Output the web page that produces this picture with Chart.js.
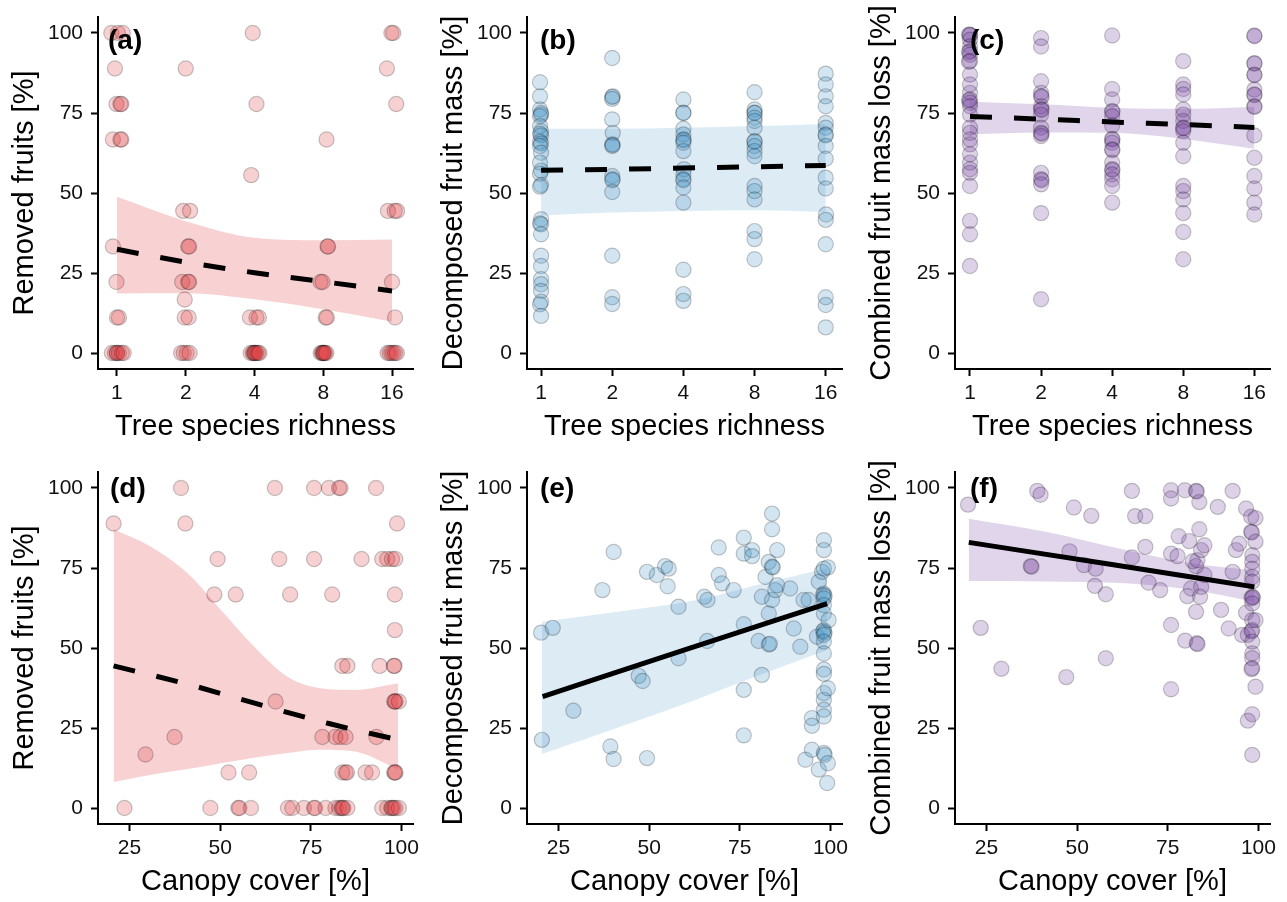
<!DOCTYPE html>
<html>
<head>
<meta charset="utf-8">
<script src="https://cdn.jsdelivr.net/npm/chart.js@4.4.1/dist/chart.umd.min.js"></script>
<style>
    html, body { margin: 0; padding: 0; background: #fff; }
    #figure { position: relative; width: 1287px; height: 902px; }
    #figure canvas { position: absolute; }
</style>
</head>
<body>
<div id="figure"></div>
<script>
// tick values
const richnessTicks = [1, 2, 4, 8, 16];
const canopyTicks = [25, 50, 75, 100];
const percentTicks = [0, 25, 50, 75, 100];

// (a) removed fruits vs tree species richness  [richness (jittered), %]
const removedRichness = [
    [0.945, 100], [1.01, 100], [1.06, 100], [0.98, 88.9],
    [0.995, 77.8], [1.035, 77.8], [1.045, 77.8],
    [0.96, 66.7], [1.035, 66.7], [1.045, 66.7],
    [0.96, 33.3], [0.995, 22.2], [1.0, 11.1], [1.02, 11.1],
    [0.95, 0], [0.98, 0], [1.0, 0], [1.0, 0], [1.02, 0], [1.05, 0], [1.07, 0],
    [2.0, 88.9], [1.95, 44.4], [2.09, 44.4], [2.05, 33.3], [2.07, 33.3],
    [1.93, 22.2], [2.05, 22.2], [2.07, 22.2], [1.98, 16.7], [1.98, 11.1], [2.06, 11.1],
    [1.91, 0], [1.96, 0], [2.02, 0], [2.08, 0],
    [3.93, 100], [4.08, 77.8], [3.87, 55.6], [3.82, 11.1], [4.08, 11.1], [4.18, 11.1],
    [3.85, 0], [3.93, 0], [3.98, 0], [4.0, 0], [4.03, 0], [4.08, 0], [4.15, 0], [4.2, 0],
    [8.27, 66.7], [8.35, 33.3], [8.4, 33.3], [7.79, 22.2], [7.95, 22.2], [8.2, 11.1], [8.3, 11.1],
    [7.8, 0], [7.9, 0], [8.0, 0], [8.0, 0], [8.05, 0], [8.15, 0], [8.25, 0],
    [15.9, 100], [16.2, 100], [15.2, 88.9], [16.7, 77.8], [15.36, 44.4], [16.43, 44.4], [16.83, 44.4],
    [16.0, 22.2], [16.5, 11.1],
    [15.3, 0], [15.6, 0], [15.9, 0], [16.2, 0], [16.5, 0], [16.8, 0]
];
const removedRichnessFitX = [1, 2, 4, 8, 16];
const removedRichnessFit = [32.4, 28.4, 25.1, 22.3, 19.4];
const removedRichnessUpper = [48.8, 41.2, 36.0, 35.2, 35.5];
const removedRichnessLower = [18.6, 18.7, 16.8, 13.7, 9.8];

// (b) decomposed fruit mass vs richness
const decompRichness = [
    [0.99, 84.6], [0.99, 80.2], [0.99, 76.1], [1.0, 75], [1.0, 74.5], [0.99, 74], [0.99, 70.9],
    [1.0, 69.3], [0.99, 68.5], [1.0, 68], [0.99, 66], [1.0, 65.5], [0.99, 64.7], [1.0, 62.6],
    [0.99, 59.5], [1.0, 57], [0.99, 56], [1.0, 52.5], [0.99, 52], [1.0, 41.8], [0.99, 40.5],
    [1.0, 40.2], [1.0, 37.1], [1.0, 30.4], [1.0, 27.2], [1.0, 23.1], [1.0, 21.5], [1.0, 19.4],
    [1.0, 16], [0.99, 15.2], [1.0, 11.6],
    [2.0, 92.2], [2.01, 80.2], [2.0, 80], [2.0, 79.4], [2.0, 73], [2.01, 68.8], [2.0, 65.2],
    [2.01, 65], [2.0, 64.7], [2.0, 55.3], [2.01, 54.3], [2.0, 54], [2.0, 50.3], [2.0, 30.4],
    [2.0, 17.4], [2.0, 15.3],
    [4.0, 79.2], [4.0, 75.1], [4.0, 75], [4.0, 70.1], [4.0, 68.3], [4.01, 66.7], [4.0, 66.5],
    [4.0, 65.7], [4.0, 63.1], [4.02, 57.4], [4.0, 55.8], [4.0, 54.3], [4.0, 54], [4.0, 51.7],
    [4.0, 47], [4.0, 26], [4.0, 18.4], [4.0, 16.3],
    [8.0, 81.5], [8.0, 76.1], [8.0, 75.1], [8.0, 75], [8.0, 73.5], [8.0, 72.5], [8.0, 70.4],
    [8.0, 66.2], [8.0, 66], [8.0, 64.7], [8.0, 63.1], [8.0, 61.5], [8.0, 52.2], [8.0, 50.6],
    [8.0, 48], [8.0, 38.1], [8.0, 35.6], [8.0, 29.3],
    [16, 87.3], [16, 83.9], [16, 80.2], [16, 77.1], [16, 71.9], [16, 70.4], [16, 68.3],
    [16, 68], [16, 64.7], [16, 60.7], [16, 54.8], [16, 51.4], [16.05, 43.3], [16, 41.6],
    [16, 34.0], [16, 17.4], [16, 15.0], [16, 8.0]
];
const decompRichnessFitX = [1, 2, 4, 8, 16];
const decompRichnessFit = [57.1, 57.4, 57.8, 58.2, 58.6];
const decompRichnessUpper = [70.1, 70.1, 70.4, 70.9, 71.6];
const decompRichnessLower = [43.0, 43.9, 44.4, 44.6, 44.1];

// (c) combined fruit mass loss vs richness
const combinedRichness = [
    [1.0, 99.5], [0.99, 99.5], [1.0, 99.3], [1.0, 97.9], [1.0, 95.8], [1.0, 94.3], [0.99, 94],
    [1.0, 93.2], [1.0, 91.2], [0.99, 91], [1.0, 87], [1.0, 83.9], [1.0, 81.3], [1.0, 79.2],
    [0.99, 79], [1.0, 78.2], [1.0, 77.1], [1.0, 74.5], [1.0, 70.4], [1.0, 68.8], [1.0, 66.7],
    [1.0, 65.2], [1.0, 62.1], [1.0, 59.5], [1.0, 57.4], [1.0, 56.3], [1.0, 52.2], [1.0, 41.3],
    [1.0, 37.1], [1.0, 27.2],
    [2.0, 98.4], [2.0, 95.8], [2.0, 84.9], [2.0, 81.3], [2.0, 80.2], [2.01, 80], [2.0, 77.1],
    [2.0, 76.1], [2.01, 76], [2.0, 74.5], [2.0, 70.4], [2.0, 68.8], [2.01, 68.5], [2.0, 67.8],
    [2.0, 56.3], [2.0, 54.3], [2.01, 54], [2.0, 52.7], [2.0, 43.7], [2.0, 16.8],
    [4.0, 99.2], [4.0, 82.5], [4.0, 79.2], [4.0, 75.6], [4.01, 75.4], [4.0, 74], [4.0, 71.1],
    [4.0, 66.9], [4.01, 66.7], [4.0, 65.7], [4.0, 63.6], [4.01, 63.4], [4.0, 59.5], [4.0, 57.4],
    [4.01, 57.2], [4.0, 55.8], [4.0, 54.3], [4.0, 52.2], [4.0, 47],
    [8.0, 91.2], [8.0, 83.9], [8.0, 82.5], [8.0, 80.8], [8.0, 76.1], [8.0, 74.5], [8.0, 72.5],
    [8.0, 70.4], [8.01, 70.2], [8.0, 69.3], [8.0, 65.7], [8.0, 61.5], [8.0, 52.2], [8.0, 50.6],
    [8.0, 48], [8.0, 43.7], [8.0, 37.8], [8.0, 29.3],
    [16, 99.2], [16.02, 99.0], [16, 90.6], [16.02, 90.4], [16, 87], [16.02, 86.8], [16, 82.3],
    [16, 80.8], [16.02, 80.6], [16, 77.1], [16.02, 76.9], [16, 68], [16, 61], [16, 55.3],
    [16, 51.4], [16, 47], [16, 43.3]
];
const combinedRichnessFitX = [1, 2, 4, 8, 16];
const combinedRichnessFit = [73.9, 73.1, 72.2, 71.4, 70.5];
const combinedRichnessUpper = [78.5, 77.7, 76.6, 76.3, 76.9];
const combinedRichnessLower = [68.3, 68.9, 68.8, 66.9, 63.8];

// (d) removed fruits vs canopy cover  [canopy %, %]
const removedCanopy = [
    [39.2, 100], [65.1, 100], [75.9, 100], [80.0, 100], [82.8, 100], [83.2, 100], [93.0, 100],
    [20.6, 88.9], [40.4, 88.9], [98.8, 88.9],
    [49.3, 77.8], [66.3, 77.8], [75.9, 77.8], [89.0, 77.8], [94.7, 77.8], [96.1, 77.8], [97.4, 77.8], [98.3, 77.8],
    [48.4, 66.7], [54.3, 66.7], [69.3, 66.7], [80.9, 66.7], [98.2, 66.7],
    [98.2, 55.6],
    [83.7, 44.4], [85.1, 44.4], [94.0, 44.4], [97.9, 44.4], [98.1, 44.4],
    [65.3, 33.3], [98.2, 33.3], [98.0, 33.3], [98.4, 33.3], [99.3, 33.3],
    [37.4, 22.2], [78.2, 22.2], [81.8, 22.2], [83.2, 22.2], [84.6, 22.2], [93.1, 22.2],
    [29.4, 16.7],
    [52.3, 11.1], [58.0, 11.1], [83.7, 11.1], [84.6, 11.1], [85.0, 11.1], [90.1, 11.1], [91.9, 11.1],
    [98.0, 11.1], [98.2, 11.1], [98.4, 11.1],
    [23.6, 0], [47.3, 0], [55.0, 0], [55.3, 0], [58.5, 0], [68.7, 0], [69.9, 0], [73.1, 0],
    [75.9, 0], [76.2, 0], [79.1, 0], [81.8, 0], [82.8, 0], [83.5, 0], [83.7, 0], [84.0, 0],
    [85.1, 0], [94.7, 0], [96.1, 0], [97.2, 0], [97.4, 0], [97.8, 0], [98.3, 0], [99.3, 0]
];
const removedCanopyFitX = [20.6, 40, 60, 80, 99.1];
const removedCanopyFit = [44.4, 39.0, 32.6, 26.4, 21.3];
const removedCanopyBandX = [20.6, 31.0, 41.1, 50.2, 59.4, 68.6, 77.7, 86.9, 99.1];
const removedCanopyUpper = [87.1, 81.6, 73.3, 61.9, 50.4, 41.0, 37.4, 36.9, 39.0];
const removedCanopyLower = [8.1, 10.4, 12.2, 14.0, 15.7, 17.2, 18.2, 17.7, 12.0];

// (e) decomposed fruit mass vs canopy cover
const decompCanopy = [
    [20.2, 54.8], [23.4, 56.3], [20.4, 21.3], [29.1, 30.4], [37.1, 68.1], [40.2, 80.0],
    [39.3, 19.2], [40.2, 15.3], [47.1, 41.3], [48.2, 39.7], [49.4, 73.8], [49.4, 15.6],
    [52.1, 72.8], [54.4, 75.6], [55.4, 74.8], [55.1, 69.3], [58.1, 62.9], [58.1, 46.8],
    [65.2, 66.0], [66.1, 65.0], [66.0, 52.2], [69.2, 81.4], [69.2, 72.8], [70.1, 70.2],
    [73.3, 68.1], [76.1, 84.5], [76.1, 79.5], [76.1, 57.4], [76.1, 36.9], [76.1, 22.7],
    [78.4, 80.6], [78.4, 78.7], [81.1, 66.0], [81.1, 41.6], [80.2, 52.2], [82.1, 72.2],
    [83.0, 76.9], [83.9, 92.0], [83.9, 87.1], [83.9, 75.4], [84.1, 75.2], [83.0, 60.8],
    [83.0, 51.1], [83.3, 51.3], [83.9, 65.0], [85.3, 80.6], [84.8, 68.1], [85.3, 69.6],
    [88.9, 68.6], [89.9, 56.1], [91.7, 50.4], [92.6, 65.0], [94.0, 65.0], [93.1, 15.1],
    [94.9, 18.2], [94.9, 28.1], [94.9, 25.7], [96.3, 53.5], [96.8, 70.7], [97.7, 73.8],
    [96.8, 12.0], [98.2, 83.7], [98.2, 80.6], [98.2, 74.8], [98.2, 67.0], [98.0, 66.6],
    [98.4, 66.2], [98.2, 65.5], [98.2, 63.4], [98.2, 60.8], [98.2, 55.6], [98.0, 55.2],
    [98.4, 54.8], [98.2, 54.1], [98.2, 52.0], [98.2, 48.3], [98.2, 43.3], [98.2, 41.9],
    [98.2, 35.9], [98.2, 33.8], [98.2, 30.7], [98.2, 28.6], [98.2, 17.2], [98.4, 16.6],
    [99.3, 14.0], [99.1, 7.8], [99.3, 37.4], [99.5, 58.7], [99.3, 75.2]
];
const decompCanopyFitX = [20.6, 60, 99.1];
const decompCanopyFit = [34.8, 49.5, 63.9];
const decompCanopyBandX = [20.4, 44.8, 63.2, 81.6, 99.1];
const decompCanopyUpper = [58.2, 61.9, 65.0, 70.2, 74.9];
const decompCanopyLower = [16.9, 26.5, 34.0, 42.0, 49.4];

// (f) combined fruit mass loss vs canopy cover
const combinedCanopy = [
    [19.9, 94.8], [39.0, 99.1], [39.9, 97.9], [23.4, 56.3], [29.1, 43.5], [37.2, 75.6],
    [37.4, 75.4], [47.0, 40.9], [47.9, 80.2], [49.1, 93.9], [51.9, 75.9], [53.9, 91.3],
    [55.1, 74.8], [54.9, 69.4], [57.9, 66.8], [57.9, 46.8], [65.1, 99.1], [65.1, 78.3],
    [66.0, 91.2], [68.8, 91.2], [68.8, 81.6], [69.7, 70.4], [72.9, 68.1], [75.9, 99.3],
    [75.9, 96.7], [75.9, 79.5], [75.9, 57.2], [75.9, 37.1], [78.0, 84.9], [77.7, 78.7],
    [79.7, 99.3], [79.8, 52.3], [80.9, 83.4], [80.4, 66.2], [81.4, 68.6], [81.9, 77.1],
    [82.8, 99.1], [83.0, 98.9], [82.8, 75.6], [82.8, 61.3], [83.0, 51.5], [83.2, 51.2],
    [83.2, 77.4], [83.7, 95.6], [83.7, 87.1], [83.9, 66.0], [84.2, 69.1], [84.2, 80.6],
    [85.1, 72.8], [85.1, 82.1], [88.8, 94.1], [89.7, 61.9], [91.8, 56.1], [92.9, 99.1],
    [92.9, 73.8], [93.8, 80.6], [94.7, 82.6], [95.5, 54.1], [96.6, 93.6], [96.6, 61.0],
    [97.1, 54.1], [97.1, 27.3], [98.0, 91.0], [98.0, 86.3], [98.2, 86.1], [98.3, 79.0],
    [98.3, 76.9], [98.3, 74.8], [98.3, 72.2], [98.3, 70.7], [98.3, 66.0], [98.1, 65.6],
    [98.5, 65.8], [98.3, 63.9], [98.3, 58.7], [98.3, 55.6], [98.1, 55.2], [98.3, 52.0],
    [98.3, 48.3], [98.3, 46.8], [98.3, 43.7], [98.1, 43.4], [98.3, 29.3], [98.3, 16.6],
    [99.2, 90.6], [99.2, 83.2], [99.2, 58.7], [99.2, 37.9]
];
const combinedCanopyFitX = [20.1, 60, 98.9];
const combinedCanopyFit = [83.0, 76.0, 69.1];
const combinedCanopyBandX = [20.1, 41.3, 63.4, 81.8, 98.9];
const combinedCanopyUpper = [90.4, 86.3, 80.6, 76.4, 74.3];
const combinedCanopyLower = [70.9, 70.8, 70.2, 68.1, 64.4];

const FONT = '"Liberation Sans", Arial, Helvetica, sans-serif';

const COLOURS = {
    red:    { point: 'rgba(220, 40, 45, 0.22)',  band: 'rgba(220, 40, 45, 0.21)' },
    blue:   { point: 'rgba(66, 146, 198, 0.24)', band: 'rgba(66, 146, 198, 0.18)' },
    purple: { point: 'rgba(112, 62, 160, 0.24)', band: 'rgba(112, 62, 160, 0.22)' }
};

// pixel geometry of the 2 x 3 grid
const COLUMNS = [
    { left: 0,   width: 430, plotLeft: 98,  plotRight: 413 },
    { left: 430, width: 430, plotLeft: 527, plotRight: 842 },
    { left: 860, width: 427, plotLeft: 955, plotRight: 1270 }
];
const ROWS = [
    { top: 0,   height: 450, plotTop: 17,  plotBottom: 369, tagDy: 24 },
    { top: 450, height: 452, plotTop: 472, plotBottom: 824, tagDy: 17.3 }
];

const PANELS = [
    { tag: '(a)', row: 0, col: 0, tagDx: 10, colour: 'red', dashed: true, log: true, xMin: 0.826, xMax: 19.77,
      points: removedRichness, fitX: removedRichnessFitX, fit: removedRichnessFit,
      bandX: removedRichnessFitX, upper: removedRichnessUpper, lower: removedRichnessLower,
      xTitle: 'Tree species richness', yTitle: 'Removed fruits [%]' },
    { tag: '(b)', row: 0, col: 1, tagDx: 13, colour: 'blue', dashed: true, log: true, xMin: 0.872, xMax: 18.75,
      points: decompRichness, fitX: decompRichnessFitX, fit: decompRichnessFit,
      bandX: decompRichnessFitX, upper: decompRichnessUpper, lower: decompRichnessLower,
      xTitle: 'Tree species richness', yTitle: 'Decomposed fruit mass [%]' },
    { tag: '(c)', row: 0, col: 2, tagDx: 15, colour: 'purple', dashed: true, log: true, xMin: 0.864, xMax: 18.64,
      points: combinedRichness, fitX: combinedRichnessFitX, fit: combinedRichnessFit,
      bandX: combinedRichnessFitX, upper: combinedRichnessUpper, lower: combinedRichnessLower,
      xTitle: 'Tree species richness', yTitle: 'Combined fruit mass loss [%]' },
    { tag: '(d)', row: 1, col: 0, tagDx: 12, colour: 'red', dashed: true, log: false, xMin: 16.3, xMax: 103.2,
      points: removedCanopy, fitX: removedCanopyFitX, fit: removedCanopyFit,
      bandX: removedCanopyBandX, upper: removedCanopyUpper, lower: removedCanopyLower,
      xTitle: 'Canopy cover [%]', yTitle: 'Removed fruits [%]' },
    { tag: '(e)', row: 1, col: 1, tagDx: 13, colour: 'blue', dashed: false, log: false, xMin: 16.3, xMax: 103.2,
      points: decompCanopy, fitX: decompCanopyFitX, fit: decompCanopyFit,
      bandX: decompCanopyBandX, upper: decompCanopyUpper, lower: decompCanopyLower,
      xTitle: 'Canopy cover [%]', yTitle: 'Decomposed fruit mass [%]' },
    { tag: '(f)', row: 1, col: 2, tagDx: 15, colour: 'purple', dashed: false, log: false, xMin: 16.3, xMax: 103.2,
      points: combinedCanopy, fitX: combinedCanopyFitX, fit: combinedCanopyFit,
      bandX: combinedCanopyBandX, upper: combinedCanopyUpper, lower: combinedCanopyLower,
      xTitle: 'Canopy cover [%]', yTitle: 'Combined fruit mass loss [%]' }
];

const panelTagPlugin = {
    id: 'panelTag',
    afterDatasetsDraw(chart, args, opts) {
        const { ctx, chartArea } = chart;
        ctx.save();
        ctx.font = 'bold 28px ' + FONT;
        ctx.fillStyle = '#000';
        ctx.textBaseline = 'middle';
        ctx.textAlign = 'left';
        ctx.fillText(opts.text, chartArea.left + opts.dx, chartArea.top + opts.dy);
        ctx.restore();
    }
};

const toXY = (xs, ys) => xs.map((x, i) => ({ x: x, y: ys[i] }));

class FruitFigure {
    constructor(panels) {
        this.panels = panels;
        this.charts = [];
        this.figure = document.getElementById('figure');
    }

    init() {
        Chart.defaults.font.family = FONT;
        this.panels.forEach(panel => this.createPanel(panel));
    }

    axisStyle(fontSize) {
        return {
            grid: { display: true, drawOnChartArea: false, drawTicks: true, tickLength: 7, tickWidth: 2, tickColor: '#000' },
            border: { display: true, color: '#000', width: 2 }
        };
    }

    createPanel(panel) {
        const col = COLUMNS[panel.col];
        const row = ROWS[panel.row];
        const canvas = document.createElement('canvas');
        canvas.width = col.width;
        canvas.height = row.height;
        canvas.style.left = col.left + 'px';
        canvas.style.top = row.top + 'px';
        this.figure.appendChild(canvas);

        const yAxisWidth = col.plotLeft - col.left;
        const xAxisHeight = row.top + row.height - row.plotBottom;
        const titleHalf = 29 * 1.2 / 2;
        const colour = COLOURS[panel.colour];
        const xTicks = panel.log ? richnessTicks : canopyTicks;

        const datasets = [
            {
                type: 'line',
                data: toXY(panel.fitX, panel.fit),
                borderColor: '#000',
                borderWidth: 5,
                borderDash: panel.dashed ? [22, 22] : [],
                borderCapStyle: 'butt',
                pointRadius: 0,
                cubicInterpolationMode: 'monotone',
                fill: false
            },
            {
                type: 'scatter',
                data: panel.points.map(p => ({ x: p[0], y: p[1] })),
                backgroundColor: colour.point,
                borderColor: 'rgba(0, 0, 0, 0.22)',
                borderWidth: 1.2,
                pointRadius: 7.6
            },
            {
                type: 'line',
                data: toXY(panel.bandX, panel.upper),
                borderWidth: 0,
                borderColor: 'rgba(0,0,0,0)',
                backgroundColor: colour.band,
                pointRadius: 0,
                cubicInterpolationMode: 'monotone',
                fill: '+1'
            },
            {
                type: 'line',
                data: toXY(panel.bandX, panel.lower),
                borderWidth: 0,
                borderColor: 'rgba(0,0,0,0)',
                pointRadius: 0,
                cubicInterpolationMode: 'monotone',
                fill: false
            }
        ];

        const style = this.axisStyle();
        const chart = new Chart(canvas.getContext('2d'), {
            type: 'scatter',
            data: { datasets: datasets },
            plugins: [panelTagPlugin],
            options: {
                responsive: false,
                animation: false,
                devicePixelRatio: 1,
                events: [],
                layout: { padding: { left: 0, top: row.plotTop - row.top, right: col.left + col.width - col.plotRight, bottom: 0 } },
                plugins: {
                    legend: { display: false },
                    tooltip: { enabled: false },
                    panelTag: { text: panel.tag, dx: panel.tagDx, dy: row.tagDy }
                },
                scales: {
                    x: {
                        type: panel.log ? 'logarithmic' : 'linear',
                        min: panel.xMin,
                        max: panel.xMax,
                        afterBuildTicks: s => { s.ticks = xTicks.map(v => ({ value: v })); },
                        afterFit: s => {
                            s.height = xAxisHeight;
                            s.paddingLeft = s.paddingRight = s.paddingTop = s.paddingBottom = 0;
                        },
                        ticks: { callback: v => String(v), autoSkip: false, maxRotation: 0, padding: 5,
                                 color: '#111', font: { size: 21 } },
                        grid: style.grid,
                        border: style.border,
                        title: { display: true, text: panel.xTitle, color: '#000', font: { size: 29 },
                                 padding: { top: 0, bottom: xAxisHeight - 57.7 - titleHalf } }
                    },
                    y: {
                        type: 'linear',
                        min: -5,
                        max: 105,
                        afterBuildTicks: s => { s.ticks = percentTicks.map(v => ({ value: v })); },
                        afterFit: s => {
                            s.width = yAxisWidth;
                            s.paddingLeft = s.paddingRight = s.paddingTop = s.paddingBottom = 0;
                        },
                        ticks: { callback: v => String(v), padding: 8, color: '#111', font: { size: 21 } },
                        grid: style.grid,
                        border: style.border,
                        title: { display: true, text: panel.yTitle, color: '#000', font: { size: 29 },
                                 padding: { top: yAxisWidth - 73 - titleHalf, bottom: 0 } }
                    }
                }
            }
        });
        this.charts.push(chart);
    }
}

document.addEventListener('DOMContentLoaded', () => {
    const figure = new FruitFigure(PANELS);
    figure.init();
    window.fruitFigure = figure;
});
</script>
</body>
</html>
